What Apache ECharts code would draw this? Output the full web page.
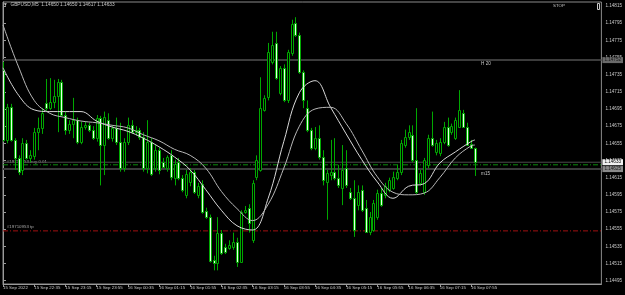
<!DOCTYPE html>
<html>
<head>
<meta charset="utf-8">
<script src="https://cdn.jsdelivr.net/npm/echarts@6/dist/echarts.min.js"></script>
<style>
  html, body { margin: 0; background: #000; }
  #chart { width: 625px; height: 295px; }
</style>
</head>
<body>
<div id="chart"></div>
<script>
// GBPUSD M5, 15 Sep 21:55 .. 16 Sep 08:00 (122 bars)
const opens = [
  1.14740, 1.14659, 1.14697, 1.14659, 1.14638, 1.14624, 1.14655, 1.14638, 1.14640, 1.14668,
  1.14673, 1.14702, 1.14696, 1.14703, 1.14710, 1.14726, 1.14688, 1.14671, 1.14678, 1.14682,
  1.14657, 1.14674, 1.14676, 1.14671, 1.14661, 1.14685, 1.14653, 1.14682, 1.14661, 1.14673,
  1.14657, 1.14626, 1.14657, 1.14676, 1.14668, 1.14671, 1.14662, 1.14626, 1.14657, 1.14626,
  1.14647, 1.14633, 1.14626, 1.14641, 1.14615, 1.14633, 1.14615, 1.14595, 1.14610, 1.14622,
  1.14595, 1.14608, 1.14576, 1.14569, 1.14519, 1.14516, 1.14551, 1.14534, 1.14533, 1.14534,
  1.14540, 1.14517, 1.14575, 1.14580, 1.14542, 1.14616, 1.14624, 1.14694, 1.14709, 1.14750,
  1.14772, 1.14714, 1.14743, 1.14705, 1.14760, 1.14795, 1.14781, 1.14738, 1.14696, 1.14671,
  1.14650, 1.14661, 1.14639, 1.14610, 1.14618, 1.14622, 1.14615, 1.14603, 1.14626, 1.14598,
  1.14591, 1.14583, 1.14601, 1.14580, 1.14552, 1.14554, 1.14569, 1.14597, 1.14595, 1.14601,
  1.14603, 1.14615, 1.14622, 1.14653, 1.14662, 1.14665, 1.14636, 1.14609, 1.14598, 1.14630,
  1.14661, 1.14645, 1.14644, 1.14657, 1.14674, 1.14668, 1.14661, 1.14674, 1.14690, 1.14674,
  1.14654, 1.14650
];
const highs = [
  1.14750, 1.14701, 1.14701, 1.14661, 1.14641, 1.14661, 1.14659, 1.14647, 1.14673, 1.14685,
  1.14696, 1.14730, 1.14731, 1.14729, 1.14730, 1.14729, 1.14692, 1.14682, 1.14708, 1.14685,
  1.14680, 1.14680, 1.14679, 1.14675, 1.14688, 1.14687, 1.14692, 1.14690, 1.14676, 1.14685,
  1.14679, 1.14661, 1.14685, 1.14682, 1.14675, 1.14673, 1.14668, 1.14682, 1.14661, 1.14653,
  1.14650, 1.14638, 1.14641, 1.14647, 1.14636, 1.14638, 1.14618, 1.14624, 1.14626, 1.14624,
  1.14609, 1.14612, 1.14580, 1.14572, 1.14524, 1.14569, 1.14554, 1.14538, 1.14542, 1.14551,
  1.14545, 1.14577, 1.14582, 1.14584, 1.14612, 1.14641, 1.14732, 1.14711, 1.14772, 1.14785,
  1.14785, 1.14745, 1.14747, 1.14764, 1.14799, 1.14802, 1.14784, 1.14740, 1.14705, 1.14673,
  1.14674, 1.14676, 1.14647, 1.14624, 1.14659, 1.14661, 1.14630, 1.14653, 1.14647, 1.14603,
  1.14612, 1.14606, 1.14606, 1.14589, 1.14575, 1.14589, 1.14601, 1.14603, 1.14609, 1.14615,
  1.14622, 1.14630, 1.14659, 1.14671, 1.14676, 1.14676, 1.14696, 1.14624, 1.14638, 1.14665,
  1.14692, 1.14659, 1.14661, 1.14680, 1.14685, 1.14678, 1.14685, 1.14717, 1.14694, 1.14679,
  1.14659, 1.14650
];
const lows = [
  1.14657, 1.14655, 1.14657, 1.14624, 1.14618, 1.14618, 1.14636, 1.14633, 1.14636, 1.14647,
  1.14666, 1.14692, 1.14694, 1.14696, 1.14668, 1.14686, 1.14665, 1.14666, 1.14661, 1.14654,
  1.14654, 1.14671, 1.14668, 1.14659, 1.14657, 1.14606, 1.14618, 1.14659, 1.14657, 1.14653,
  1.14622, 1.14622, 1.14653, 1.14666, 1.14664, 1.14659, 1.14622, 1.14620, 1.14617, 1.14622,
  1.14619, 1.14626, 1.14622, 1.14612, 1.14606, 1.14612, 1.14598, 1.14591, 1.14605, 1.14596,
  1.14591, 1.14573, 1.14567, 1.14516, 1.14507, 1.14507, 1.14525, 1.14526, 1.14531, 1.14531,
  1.14511, 1.14516, 1.14573, 1.14551, 1.14539, 1.14612, 1.14622, 1.14692, 1.14705, 1.14747,
  1.14729, 1.14711, 1.14703, 1.14702, 1.14757, 1.14779, 1.14736, 1.14696, 1.14668, 1.14647,
  1.14647, 1.14636, 1.14606, 1.14566, 1.14612, 1.14612, 1.14603, 1.14583, 1.14603, 1.14589,
  1.14546, 1.14577, 1.14575, 1.14551, 1.14548, 1.14552, 1.14566, 1.14581, 1.14591, 1.14598,
  1.14601, 1.14612, 1.14618, 1.14650, 1.14659, 1.14633, 1.14596, 1.14606, 1.14595, 1.14626,
  1.14651, 1.14641, 1.14640, 1.14654, 1.14651, 1.14665, 1.14659, 1.14673, 1.14673, 1.14652,
  1.14649, 1.14617
];
const closes = [
  1.14659, 1.14697, 1.14659, 1.14638, 1.14622, 1.14655, 1.14638, 1.14641, 1.14668, 1.14673,
  1.14690, 1.14696, 1.14703, 1.14710, 1.14726, 1.14688, 1.14671, 1.14678, 1.14682, 1.14657,
  1.14674, 1.14676, 1.14671, 1.14661, 1.14685, 1.14653, 1.14686, 1.14661, 1.14673, 1.14657,
  1.14626, 1.14657, 1.14676, 1.14668, 1.14671, 1.14662, 1.14626, 1.14657, 1.14619, 1.14647,
  1.14624, 1.14627, 1.14639, 1.14616, 1.14631, 1.14615, 1.14601, 1.14619, 1.14622, 1.14598,
  1.14605, 1.14575, 1.14569, 1.14518, 1.14516, 1.14551, 1.14527, 1.14528, 1.14537, 1.14540,
  1.14517, 1.14575, 1.14577, 1.14562, 1.14609, 1.14636, 1.14696, 1.14708, 1.14761, 1.14770,
  1.14731, 1.14743, 1.14705, 1.14761, 1.14794, 1.14781, 1.14738, 1.14705, 1.14671, 1.14650,
  1.14661, 1.14639, 1.14612, 1.14620, 1.14622, 1.14615, 1.14606, 1.14624, 1.14606, 1.14591,
  1.14554, 1.14598, 1.14577, 1.14552, 1.14569, 1.14586, 1.14597, 1.14583, 1.14605, 1.14612,
  1.14616, 1.14622, 1.14655, 1.14662, 1.14668, 1.14636, 1.14598, 1.14620, 1.14636, 1.14661,
  1.14653, 1.14655, 1.14657, 1.14674, 1.14653, 1.14675, 1.14682, 1.14694, 1.14674, 1.14653,
  1.14650, 1.14633
];

// moving averages, read every 4th bar
const maIdx = [0, 4, 8, 12, 16, 20, 24, 28, 32, 36, 40, 44, 48, 52, 56, 60, 64, 68, 72, 76,
  80, 84, 88, 92, 96, 100, 104, 108, 112, 116, 120, 121];
const maFast = [1.14743, 1.14711, 1.14694, 1.14692, 1.14692, 1.14692, 1.14681, 1.14674, 1.14669, 1.14661,
  1.14651, 1.14639, 1.14624, 1.14601, 1.14577, 1.14559, 1.14554, 1.14591, 1.14657, 1.14714,
  1.14728, 1.14697, 1.14666, 1.14636, 1.14610, 1.14591, 1.14605, 1.14608, 1.14632, 1.14645,
  1.14657, 1.14659];
const maSlow = [1.14793, 1.14744, 1.14705, 1.14690, 1.14685, 1.14681, 1.14679, 1.14676, 1.14673, 1.14665,
  1.14658, 1.14648, 1.14641, 1.14626, 1.14599, 1.14579, 1.14565, 1.14584, 1.14626, 1.14675,
  1.14695, 1.14697, 1.14678, 1.14647, 1.14616, 1.14598, 1.14595, 1.14597, 1.14615, 1.14638,
  1.14652, 1.14653];

const timeTickIdx = [0, 8, 16, 24, 32, 40, 48, 56, 64, 72, 80, 88, 96, 104, 112, 120];
const timeLabels = ['15 Sep 2022', '15 Sep 22:35', '15 Sep 23:15', '15 Sep 23:55', '16 Sep 00:35',
  '16 Sep 01:15', '16 Sep 01:55', '16 Sep 02:35', '16 Sep 03:15', '16 Sep 03:55', '16 Sep 04:35',
  '16 Sep 05:15', '16 Sep 05:55', '16 Sep 06:35', '16 Sep 07:15', '16 Sep 07:55'];
const priceTicks = [1.14495, 1.14515, 1.14535, 1.14555, 1.14575, 1.14595, 1.14615, 1.14635,
  1.14655, 1.14675, 1.14695, 1.14715, 1.14735, 1.14755, 1.14775, 1.14795, 1.14815];

const bid = 1.14633
const orderPrice = 1.14630
const tpPrice = 1.14553
const lineH20 = 1.14752
const lineM15 = 1.14625

const X_MAX = 153.45
const GREEN = '#00a800'
const FONT = 'Liberation Sans'
const TEXT = '#c8c8c8'

const candles = opens.map((o, i) => [i, o, closes[i], lows[i], highs[i]])

function renderCandle(params, api) {
  const i = api.value(0)
  const o = api.value(1), c = api.value(2), l = api.value(3), h = api.value(4)
  const pHigh = api.coord([i, h]), pLow = api.coord([i, l])
  const pOpen = api.coord([i, o]), pClose = api.coord([i, c])
  const cx = Math.round(pHigh[0])
  const top = Math.round(Math.min(pOpen[1], pClose[1])) + 0.5
  const bot = Math.max(Math.round(Math.max(pOpen[1], pClose[1])) + 0.5, top + 1)
  const up = c >= o
  return {
    type: 'group',
    children: [
      { type: 'line', shape: { x1: cx + 0.5, y1: pHigh[1], x2: cx + 0.5, y2: pLow[1] },
        style: { stroke: GREEN, lineWidth: 1 } },
      { type: 'rect', shape: { x: cx - 0.5, y: top, width: 2, height: bot - top },
        style: { fill: up ? '#000' : '#e4ffe4', stroke: GREEN, lineWidth: 1 } },
    ],
  }
}

// horizontal level drawn as a two-point line across the whole time range
function level(value, color, width, type, endTag) {
  return {
    type: 'line', silent: true, z: 1,
    data: [[0, value], [X_MAX, value]],
    showSymbol: false,
    lineStyle: { color, width, type },
    endLabel: endTag ? {
      show: true, formatter: endTag.text, distance: 1,
      backgroundColor: endTag.bg, color: endTag.fg, fontSize: 4.6, fontFamily: FONT, padding: [1, 2, 0, 2],
    } : { show: false },
  }
}

const chart = echarts.init(document.getElementById('chart'))
chart.setOption({
  animation: false,
  backgroundColor: '#000',
  grid: { left: 1, right: 22, top: 2, bottom: 11, show: true, borderColor: '#8a8a8a', borderWidth: 1 },
  xAxis: {
    type: 'value', min: 0, max: X_MAX,
    axisLine: { show: true, lineStyle: { color: '#9a9a9a' } },
    axisTick: { show: true, customValues: timeTickIdx, length: 3, lineStyle: { color: '#9a9a9a' } },
    axisLabel: {
      customValues: timeTickIdx, align: 'left', margin: 2, color: TEXT, fontSize: 4.4, fontFamily: FONT,
      formatter: (v) => timeLabels[timeTickIdx.indexOf(v)] || '',
    },
    splitLine: { show: false },
  },
  yAxis: {
    type: 'value', position: 'right', min: 1.144911, max: 1.148197, scale: true,
    axisLine: { show: true, lineStyle: { color: '#9a9a9a' } },
    axisTick: { show: true, customValues: priceTicks, length: 3, lineStyle: { color: '#9a9a9a' } },
    axisLabel: {
      customValues: priceTicks, margin: 4, color: TEXT, fontSize: 4.6, fontFamily: FONT,
      formatter: (v) => v.toFixed(5),
    },
    splitLine: { show: false },
  },
  series: [
    level(lineH20, '#3c3c3c', 2, 'solid', { text: '1.14752', bg: '#6a6a6a', fg: '#1a1a1a' }),
    level(lineM15, '#3c3c3c', 2, 'solid', { text: '1.14625', bg: '#8a8a8a', fg: '#1a1a1a' }),
    level(bid, '#4c4c4c', 1, 'solid', { text: '1.14633', bg: '#f0f0f0', fg: '#000' }),
    level(orderPrice, '#0a8a0a', 1, [5, 2, 1, 2], null),
    level(tpPrice, '#a01010', 1, [5, 2, 1, 2], null),
    {
      name: 'candles', type: 'custom', renderItem: renderCandle, data: candles, clip: true, z: 3,
      encode: { x: 0, y: [1, 2, 3, 4] },
    },
    {
      name: 'maFast', type: 'line', data: maIdx.map((x, i) => [x, maFast[i]]), smooth: 0.4, z: 4,
      showSymbol: false, lineStyle: { color: '#d8d8d8', width: 1 },
    },
    {
      name: 'maSlow', type: 'line', data: maIdx.map((x, i) => [x, maSlow[i]]), smooth: 0.4, z: 4,
      showSymbol: false, lineStyle: { color: '#b8b8b8', width: 1 },
    },
  ],
})

// object descriptions placed next to their lines
const at = (x, y) => chart.convertToPixel({ gridIndex: 0 }, [x, y])
const pOrder = at(1, orderPrice), pTp = at(1, tpPrice)
const pH20 = at(122.6, lineH20), pM15 = at(122.6, lineM15)
const small = { fill: TEXT, fontSize: 4.6, fontFamily: FONT }
chart.setOption({
  graphic: [
    { type: 'text', x: 3, y: 2, style: { ...small, text: '▼  GBPUSD,M5  1.14650 1.14650 1.14617 1.14633', fontSize: 4.8 } },
    { type: 'text', x: 553, y: 4, style: { ...small, text: 'STOP', fontSize: 4.4 } },
    { type: 'rect', shape: { x: 597.5, y: 3.5, width: 2, height: 6 }, style: { fill: 'none', stroke: TEXT, lineWidth: 1 } },
    { type: 'text', x: pOrder[0], y: pOrder[1] - 5, style: { ...small, text: '#19710953 buy 0.01', fill: '#a8a8a8', fontSize: 4.4 } },
    { type: 'text', x: pTp[0], y: pTp[1] - 6, style: { ...small, text: '#19710953 tp', fill: '#a8a8a8', fontSize: 4.4 } },
    { type: 'text', x: pH20[0], y: pH20[1] + 1, style: { ...small, text: 'H 20' } },
    { type: 'text', x: pM15[0], y: pM15[1] + 2, style: { ...small, text: 'm15' } },
  ],
})
</script>
</body>
</html>
